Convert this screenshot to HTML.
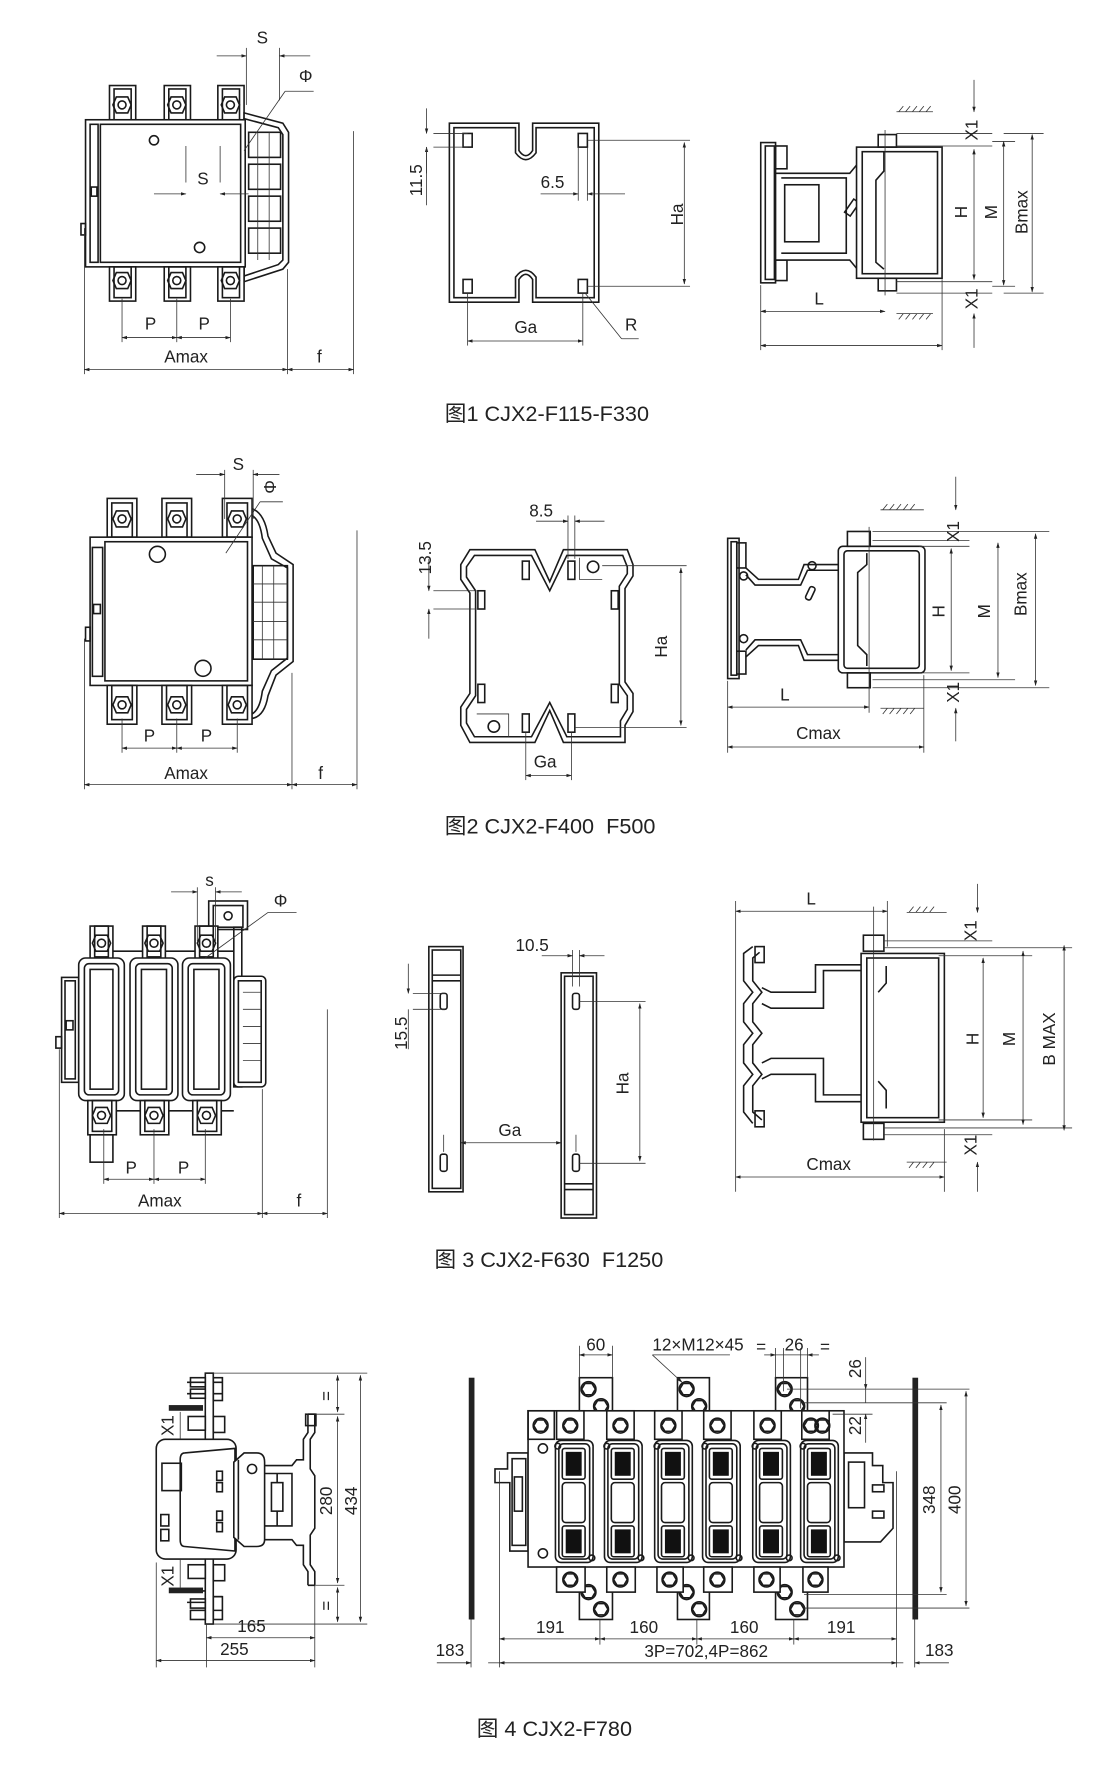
<!DOCTYPE html>
<html><head><meta charset="utf-8"><style>
html,body{margin:0;padding:0;background:#fff}
svg{display:block}
text{font-family:"Liberation Sans","Noto Sans CJK SC",sans-serif;fill:#222}
.o{fill:none;stroke:#1a1a1a;stroke-width:1.4}
.w{fill:#fff;stroke:#1a1a1a;stroke-width:1.4}
.d{fill:none;stroke:#333;stroke-width:0.7}
.a{fill:none;stroke:#333;stroke-width:0.7;marker-start:url(#ar);marker-end:url(#ar)}
.l{font-size:15px}
.c{font-size:19px}
</style></head><body>
<svg width="1120" height="1786" viewBox="0 0 982 1566" preserveAspectRatio="none" xmlns="http://www.w3.org/2000/svg">
<defs>
<marker id="ar" viewBox="0 0 10 10" refX="9" refY="5" markerWidth="7" markerHeight="7" orient="auto-start-reverse"><path d="M0,2 L10,5 L0,8 z" fill="#222"/></marker>
<g id="hx"><polygon points="-5,-7 5,-7 8,0 5,7 -5,7 -8,0" class="o"/><circle r="3.5" class="o"/></g>
<g id="hb"><circle r="6.5" class="o"/><polygon points="-3,-5 3,-5 6,0 3,5 -3,5 -6,0" class="o"/></g>
</defs>

<!-- ================= FIG 1 ================= -->
<g>
<rect x="96" y="75" width="23" height="32" class="w"/><rect x="100" y="78" width="15" height="29" class="o"/>
<rect x="144" y="75" width="23" height="32" class="w"/><rect x="148" y="78" width="15" height="29" class="o"/>
<rect x="191" y="75" width="23" height="32" class="w"/><rect x="195" y="78" width="15" height="29" class="o"/>
<use href="#hx" x="107" y="92"/><use href="#hx" x="155" y="92"/><use href="#hx" x="202" y="92"/>
<polygon points="214,99 248,108 253,116 253,230 248,236 214,247" class="w"/>
<polygon points="214,104 244,112 248,118 248,228 244,232 214,242" class="o"/>
<rect x="218" y="116" width="28" height="22" class="o"/><rect x="218" y="144" width="28" height="22" class="o"/><rect x="218" y="172" width="28" height="22" class="o"/><rect x="218" y="200" width="28" height="22" class="o"/>
<line x1="226" y1="116" x2="226" y2="228" class="d"/><line x1="236" y1="116" x2="236" y2="228" class="d"/>
<rect x="75" y="105" width="140" height="129" class="w"/>
<rect x="88" y="109" width="123" height="121" class="o"/>
<rect x="79" y="109" width="7" height="121" class="o"/>
<rect x="80" y="164" width="5" height="8" class="o"/>
<rect x="71" y="196" width="4" height="10" class="o"/>
<circle cx="135" cy="123" r="4" class="o"/><circle cx="175" cy="217" r="4.5" class="o"/>
<rect x="96" y="234" width="23" height="30" class="w"/><rect x="100" y="234" width="15" height="27" class="o"/>
<rect x="144" y="234" width="23" height="30" class="w"/><rect x="148" y="234" width="15" height="27" class="o"/>
<rect x="191" y="234" width="23" height="30" class="w"/><rect x="195" y="234" width="15" height="27" class="o"/>
<use href="#hx" x="107" y="246"/><use href="#hx" x="155" y="246"/><use href="#hx" x="202" y="246"/>
<line x1="74" y1="200" x2="74" y2="328" class="d"/><line x1="252" y1="236" x2="252" y2="328" class="d"/><line x1="310" y1="115" x2="310" y2="328" class="d"/>
<line x1="74" y1="324" x2="252" y2="324" class="a"/><line x1="252" y1="324" x2="310" y2="324" class="a"/>
<text x="144" y="318" class="l">Amax</text><text x="278" y="318" class="l">f</text>
<line x1="107" y1="262" x2="107" y2="300" class="d"/><line x1="155" y1="262" x2="155" y2="300" class="d"/><line x1="202" y1="262" x2="202" y2="300" class="d"/>
<line x1="107" y1="296" x2="155" y2="296" class="a"/><line x1="155" y1="296" x2="202" y2="296" class="a"/>
<text x="127" y="289" class="l">P</text><text x="174" y="289" class="l">P</text>
<line x1="216" y1="42" x2="216" y2="92" class="d"/><line x1="245" y1="42" x2="245" y2="88" class="d"/>
<line x1="190" y1="49" x2="216" y2="49" class="d" style="marker-end:url(#ar)"/><line x1="272" y1="49" x2="245" y2="49" class="d" style="marker-end:url(#ar)"/>
<text x="225" y="38" class="l">S</text>
<text x="262" y="72" class="l">Φ</text><line x1="250" y1="80" x2="275" y2="80" class="d"/><line x1="250" y1="80" x2="214" y2="132" class="d"/>
<line x1="163" y1="160" x2="163" y2="128" class="d"/><line x1="193" y1="160" x2="193" y2="128" class="d"/>
<line x1="135" y1="170" x2="163" y2="170" class="d" style="marker-end:url(#ar)"/><line x1="218" y1="170" x2="193" y2="170" class="d" style="marker-end:url(#ar)"/>
<text x="173" y="162" class="l">S</text>
</g>
<g>
<path d="M394,108 H455 V132 Q461,141 467,132 V108 H525 V265 H467 V245 Q461,236 455,245 V265 H394 Z" class="w"/>
<path d="M398,112 H452 V134 Q461,146 470,134 V112 H521 V261 H470 V243 Q461,231 452,243 V261 H398 Z" class="o"/>
<rect x="406" y="117" width="8" height="12" class="o"/><rect x="507" y="117" width="8" height="12" class="o"/>
<rect x="406" y="245" width="8" height="12" class="o"/><rect x="507" y="245" width="8" height="12" class="o"/>
<line x1="515" y1="123" x2="605" y2="123" class="d"/><line x1="515" y1="251" x2="605" y2="251" class="d"/>
<line x1="600" y1="125" x2="600" y2="249" class="a"/>
<text transform="translate(599,188) rotate(-90)" x="0" y="0" class="l" text-anchor="middle">Ha</text>
<line x1="380" y1="117" x2="410" y2="117" class="d"/><line x1="380" y1="129" x2="410" y2="129" class="d"/>
<line x1="374" y1="95" x2="374" y2="117" class="d" style="marker-end:url(#ar)"/><line x1="374" y1="152" x2="374" y2="129" class="d" style="marker-end:url(#ar)"/>
<line x1="374" y1="129" x2="374" y2="180" class="d"/>
<text transform="translate(370,158) rotate(-90)" class="l" text-anchor="middle">11.5</text>
<line x1="507" y1="129" x2="507" y2="176" class="d"/><line x1="515" y1="129" x2="515" y2="176" class="d"/>
<line x1="474" y1="170" x2="507" y2="170" class="d" style="marker-end:url(#ar)"/><line x1="548" y1="170" x2="515" y2="170" class="d" style="marker-end:url(#ar)"/>
<text x="474" y="165" class="l">6.5</text>
<line x1="410" y1="257" x2="410" y2="303" class="d"/><line x1="511" y1="257" x2="511" y2="303" class="d"/>
<line x1="410" y1="299" x2="511" y2="299" class="a"/><text x="451" y="292" class="l">Ga</text>
<line x1="513" y1="257" x2="545" y2="297" class="d"/><line x1="545" y1="297" x2="560" y2="297" class="d"/>
<text x="548" y="290" class="l">R</text>
</g>
<g>
<rect x="667" y="125" width="13" height="123" class="w"/><rect x="671" y="128" width="8" height="117" class="o"/>
<rect x="680" y="128" width="10" height="20" class="o"/><rect x="680" y="228" width="10" height="18" class="o"/>
<path d="M680,152 H745 L755,140 H770 V240 H755 L745,228 H680 Z" class="w"/>
<path d="M685,156 H742 V222 H685" class="o"/>
<rect x="688" y="162" width="30" height="50" class="o"/>
<circle cx="760" cy="150" r="4" class="o"/><circle cx="760" cy="232" r="4" class="o"/>
<rect x="744" y="175" width="6" height="14" transform="rotate(35 747 182)" class="o"/>
<rect x="751" y="129" width="75" height="115" class="w"/><rect x="756" y="133" width="66" height="107" class="o"/>
<path d="M775,133 V150 L768,158 V230 L775,236" class="o"/>
<rect x="770" y="118" width="16" height="11" class="o"/><rect x="770" y="244" width="16" height="11" class="o"/>
<line x1="776" y1="114" x2="776" y2="259" class="d"/>
<line x1="786" y1="98" x2="818" y2="98" class="d"/><line x1="786" y1="275" x2="818" y2="275" class="d"/>
<path d="M788,98 l4,-5 M794,98 l4,-5 M800,98 l4,-5 M806,98 l4,-5 M812,98 l4,-5 M788,280 l4,-5 M794,280 l4,-5 M800,280 l4,-5 M806,280 l4,-5 M812,280 l4,-5" class="d"/>
<line x1="786" y1="117" x2="870" y2="117" class="d"/><line x1="786" y1="128" x2="870" y2="128" class="d"/>
<line x1="786" y1="247" x2="870" y2="247" class="d"/><line x1="786" y1="257" x2="870" y2="257" class="d"/>
<line x1="854" y1="70" x2="854" y2="98" class="d" style="marker-end:url(#ar)"/><line x1="854" y1="305" x2="854" y2="275" class="d" style="marker-end:url(#ar)"/>
<line x1="854" y1="131" x2="854" y2="245" class="a"/>
<line x1="880" y1="124" x2="880" y2="250" class="a"/><line x1="870" y1="124" x2="890" y2="124" class="d"/><line x1="870" y1="251" x2="890" y2="251" class="d"/>
<line x1="905" y1="118" x2="905" y2="256" class="a"/><line x1="880" y1="117" x2="915" y2="117" class="d"/><line x1="880" y1="257" x2="915" y2="257" class="d"/>
<text transform="translate(857,114) rotate(-90)" class="l" text-anchor="middle">X1</text>
<text transform="translate(857,262) rotate(-90)" class="l" text-anchor="middle">X1</text>
<text transform="translate(848,186) rotate(-90)" class="l" text-anchor="middle">H</text>
<text transform="translate(874,186) rotate(-90)" class="l" text-anchor="middle">M</text>
<text transform="translate(901,186) rotate(-90)" class="l" text-anchor="middle">Bmax</text>
<line x1="667" y1="250" x2="667" y2="307" class="d"/><line x1="826" y1="245" x2="826" y2="307" class="d"/>
<line x1="667" y1="273" x2="776" y2="273" class="a"/><text x="714" y="267" class="l">L</text>
<line x1="667" y1="303" x2="826" y2="303" class="a"/>
</g>
<text x="390" y="369" class="c">图1 CJX2-F115-F330</text>

<!-- ================= FIG 2 ================= -->
<g>
<rect x="94" y="437" width="26" height="34" class="w"/><rect x="98" y="441" width="18" height="30" class="o"/>
<rect x="142" y="437" width="26" height="34" class="w"/><rect x="146" y="441" width="18" height="30" class="o"/>
<rect x="195" y="437" width="26" height="34" class="w"/><rect x="199" y="441" width="18" height="30" class="o"/>
<use href="#hx" x="107" y="455"/><use href="#hx" x="155" y="455"/><use href="#hx" x="208" y="455"/>
<path d="M221,446 Q232,450 235,470 L242,485 L257,495 V580 L242,592 L235,610 Q232,628 221,630" class="o"/>
<path d="M221,452 Q228,456 230,472 L238,490 L252,498 V577 L238,588 L230,606 Q228,622 221,626" class="o"/>
<rect x="222" y="496" width="30" height="82" class="o"/>
<path d="M230,496 V578 M240,496 V578 M222,512 H252 M222,528 H252 M222,545 H252 M222,561 H252" class="d"/>
<rect x="79" y="471" width="142" height="130" class="w"/>
<rect x="92" y="475" width="125" height="122" class="o"/>
<rect x="81" y="480" width="9" height="113" class="o"/>
<rect x="82" y="530" width="6" height="8" class="o"/>
<rect x="75" y="550" width="4" height="12" class="o"/>
<circle cx="138" cy="486" r="7" class="o"/><circle cx="178" cy="586" r="7" class="o"/>
<rect x="94" y="601" width="26" height="34" class="w"/><rect x="98" y="601" width="18" height="30" class="o"/>
<rect x="142" y="601" width="26" height="34" class="w"/><rect x="146" y="601" width="18" height="30" class="o"/>
<rect x="195" y="601" width="26" height="34" class="w"/><rect x="199" y="601" width="18" height="30" class="o"/>
<use href="#hx" x="107" y="618"/><use href="#hx" x="155" y="618"/><use href="#hx" x="208" y="618"/>
<line x1="74" y1="560" x2="74" y2="692" class="d"/><line x1="256" y1="590" x2="256" y2="692" class="d"/><line x1="313" y1="465" x2="313" y2="692" class="d"/>
<line x1="74" y1="688" x2="256" y2="688" class="a"/><line x1="256" y1="688" x2="313" y2="688" class="a"/>
<text x="144" y="683" class="l">Amax</text><text x="279" y="683" class="l">f</text>
<line x1="107" y1="630" x2="107" y2="660" class="d"/><line x1="155" y1="630" x2="155" y2="660" class="d"/><line x1="208" y1="630" x2="208" y2="660" class="d"/>
<line x1="107" y1="656" x2="155" y2="656" class="a"/><line x1="155" y1="656" x2="208" y2="656" class="a"/>
<text x="126" y="650" class="l">P</text><text x="176" y="650" class="l">P</text>
<line x1="197" y1="412" x2="197" y2="455" class="d"/><line x1="222" y1="412" x2="222" y2="455" class="d"/>
<line x1="172" y1="416" x2="197" y2="416" class="d" style="marker-end:url(#ar)"/><line x1="245" y1="416" x2="222" y2="416" class="d" style="marker-end:url(#ar)"/>
<text x="204" y="412" class="l">S</text>
<text transform="translate(242,427) rotate(-90)" class="l" text-anchor="middle">Φ</text>
<line x1="228" y1="440" x2="248" y2="440" class="d"/><line x1="228" y1="440" x2="198" y2="485" class="d"/>
</g>
<g>
<path d="M412,482 H469 L482,510 L494,482 H550 L555,495 V505 L548,516 V598 L555,608 V624 L548,636 V651 H494 L482,623 L469,651 H412 L404,636 V620 L412,608 V520 L404,508 V495 Z" class="w"/>
<path d="M416,487 H466 L482,518 L497,487 H546 L550,497 V503 L543,514 V600 L550,610 V622 L544,632 V646 H497 L482,616 L466,646 H416 L409,634 V622 L417,610 V518 L409,506 V497 Z" class="o"/>
<rect x="458" y="492" width="6" height="16" class="o"/><rect x="498" y="492" width="6" height="16" class="o"/>
<rect x="419" y="518" width="6" height="16" class="o"/><rect x="536" y="518" width="6" height="16" class="o"/>
<rect x="419" y="600" width="6" height="16" class="o"/><rect x="536" y="600" width="6" height="16" class="o"/>
<rect x="458" y="626" width="6" height="16" class="o"/><rect x="498" y="626" width="6" height="16" class="o"/>
<circle cx="520" cy="497" r="5" class="o"/><path d="M508,489 V508 H528" class="d"/>
<circle cx="433" cy="637" r="5" class="o"/><path d="M418,626 H446 V646" class="d"/>
<line x1="528" y1="496" x2="602" y2="496" class="d"/><line x1="504" y1="638" x2="602" y2="638" class="d"/>
<line x1="597" y1="498" x2="597" y2="636" class="a"/>
<text transform="translate(585,567) rotate(-90)" class="l" text-anchor="middle">Ha</text>
<line x1="498" y1="452" x2="498" y2="490" class="d"/><line x1="504" y1="452" x2="504" y2="490" class="d"/>
<line x1="470" y1="457" x2="498" y2="457" class="d" style="marker-end:url(#ar)"/><line x1="530" y1="457" x2="504" y2="457" class="d" style="marker-end:url(#ar)"/>
<text x="464" y="453" class="l">8.5</text>
<line x1="380" y1="518" x2="418" y2="518" class="d"/><line x1="380" y1="534" x2="418" y2="534" class="d"/>
<line x1="376" y1="490" x2="376" y2="518" class="d" style="marker-end:url(#ar)"/><line x1="376" y1="560" x2="376" y2="534" class="d" style="marker-end:url(#ar)"/>
<text transform="translate(378,489) rotate(-90)" class="l" text-anchor="middle">13.5</text>
<line x1="461" y1="642" x2="461" y2="684" class="d"/><line x1="501" y1="642" x2="501" y2="684" class="d"/>
<line x1="461" y1="680" x2="501" y2="680" class="a"/><text x="468" y="673" class="l">Ga</text>
</g>
<g>
<rect x="638" y="472" width="10" height="123" class="w"/><rect x="641" y="475" width="5" height="117" class="o"/>
<rect x="646" y="476" width="8" height="22" class="o"/><rect x="646" y="571" width="8" height="20" class="o"/>
<path d="M654,498 L665,508 H700 L705,495 H737 V579 H705 L700,566 H665 L654,576" class="o"/>
<path d="M654,504 L662,513 H702 L708,500 H737 M654,570 L662,561 H702 L708,574 H737" class="o"/>
<circle cx="652" cy="505" r="3.5" class="o"/><circle cx="652" cy="560" r="3.5" class="o"/><circle cx="712" cy="496" r="3.5" class="o"/>
<rect x="708" y="514" width="5" height="12" rx="2" transform="rotate(25 710 520)" class="o"/>
<rect x="735" y="479" width="76" height="111" rx="4" class="w"/><rect x="740" y="483" width="66" height="103" rx="3" class="o"/>
<path d="M760,485 V495 L752,502 V566 L760,574 V584" class="o"/>
<rect x="743" y="466" width="20" height="13" class="o"/><rect x="743" y="590" width="20" height="13" class="o"/>
<line x1="762" y1="462" x2="762" y2="625" class="d"/>
<line x1="772" y1="447" x2="810" y2="447" class="d"/><line x1="772" y1="621" x2="810" y2="621" class="d"/>
<path d="M774,447 l4,-5 M780,447 l4,-5 M786,447 l4,-5 M792,447 l4,-5 M798,447 l4,-5 M774,626 l4,-5 M780,626 l4,-5 M786,626 l4,-5 M792,626 l4,-5 M798,626 l4,-5" class="d"/>
<line x1="765" y1="466" x2="920" y2="466" class="d"/><line x1="765" y1="474" x2="850" y2="474" class="d"/>
<line x1="806" y1="479" x2="850" y2="479" class="d"/><line x1="806" y1="590" x2="850" y2="590" class="d"/>
<line x1="765" y1="596" x2="890" y2="596" class="d"/><line x1="765" y1="603" x2="920" y2="603" class="d"/>
<line x1="838" y1="418" x2="838" y2="447" class="d" style="marker-end:url(#ar)"/><line x1="838" y1="650" x2="838" y2="621" class="d" style="marker-end:url(#ar)"/>
<line x1="834" y1="481" x2="834" y2="588" class="a"/>
<line x1="875" y1="476" x2="875" y2="594" class="a"/>
<line x1="908" y1="468" x2="908" y2="601" class="a"/>
<text transform="translate(841,466) rotate(-90)" class="l" text-anchor="middle">X1</text>
<text transform="translate(841,607) rotate(-90)" class="l" text-anchor="middle">X1</text>
<text transform="translate(828,536) rotate(-90)" class="l" text-anchor="middle">H</text>
<text transform="translate(868,536) rotate(-90)" class="l" text-anchor="middle">M</text>
<text transform="translate(900,521) rotate(-90)" class="l" text-anchor="middle">Bmax</text>
<line x1="638" y1="597" x2="638" y2="660" class="d"/><line x1="810" y1="592" x2="810" y2="660" class="d"/>
<line x1="638" y1="620" x2="762" y2="620" class="a"/><text x="684" y="614" class="l">L</text>
<line x1="638" y1="655" x2="810" y2="655" class="a"/><text x="698" y="648" class="l">Cmax</text>
</g>
<text x="390" y="731" class="c">图2 CJX2-F400&#160;&#160;F500</text>

<!-- ================= FIG 3 ================= -->
<g>
<rect x="183" y="790" width="34" height="25" class="w"/><rect x="187" y="794" width="26" height="19" class="o"/><circle cx="200" cy="803" r="3.5" class="o"/>
<rect x="205" y="813" width="7" height="140" class="o"/>
<rect x="205" y="856" width="28" height="97" rx="4" class="w"/><rect x="209" y="860" width="20" height="89" class="o"/>
<path d="M213,870 H229 M213,885 H229 M213,900 H229 M213,915 H229 M213,930 H229" class="d"/>
<rect x="54" y="857" width="15" height="92" class="w"/><rect x="57" y="860" width="9" height="86" class="o"/>
<rect x="58" y="895" width="6" height="8" class="o"/><rect x="49" y="909" width="5" height="10" class="o"/>
<line x1="80" y1="834" x2="205" y2="834" class="o"/><line x1="80" y1="974" x2="205" y2="974" class="o"/>
<g>
<rect x="79" y="812" width="20" height="30" class="w"/><rect x="83" y="812" width="12" height="27" class="o"/><use href="#hx" x="89" y="827"/>
<rect x="69" y="840" width="40" height="125" rx="6" class="w"/><rect x="74" y="845" width="30" height="115" rx="4" class="o"/><rect x="79" y="850" width="20" height="105" class="o"/>
<rect x="77" y="965" width="25" height="30" class="w"/><rect x="81" y="965" width="17" height="27" class="o"/><use href="#hx" x="89" y="978"/>
<rect x="79" y="995" width="20" height="24" class="o"/>
</g>
<g>
<rect x="125" y="812" width="20" height="30" class="w"/><rect x="129" y="812" width="12" height="27" class="o"/><use href="#hx" x="135" y="827"/>
<rect x="114" y="840" width="42" height="125" rx="6" class="w"/><rect x="119" y="845" width="32" height="115" rx="4" class="o"/><rect x="124" y="850" width="22" height="105" class="o"/>
<rect x="123" y="965" width="25" height="30" class="w"/><rect x="127" y="965" width="17" height="27" class="o"/><use href="#hx" x="135" y="978"/>
</g>
<g>
<rect x="171" y="812" width="20" height="30" class="w"/><rect x="175" y="812" width="12" height="27" class="o"/><use href="#hx" x="181" y="827"/>
<rect x="160" y="840" width="42" height="125" rx="6" class="w"/><rect x="165" y="845" width="32" height="115" rx="4" class="o"/><rect x="170" y="850" width="22" height="105" class="o"/>
<rect x="169" y="965" width="25" height="30" class="w"/><rect x="173" y="965" width="17" height="27" class="o"/><use href="#hx" x="181" y="978"/>
</g>
<line x1="52" y1="920" x2="52" y2="1068" class="d"/><line x1="230" y1="955" x2="230" y2="1068" class="d"/><line x1="287" y1="885" x2="287" y2="1068" class="d"/>
<line x1="52" y1="1064" x2="230" y2="1064" class="a"/><line x1="230" y1="1064" x2="287" y2="1064" class="a"/>
<text x="121" y="1058" class="l">Amax</text><text x="260" y="1058" class="l">f</text>
<line x1="91" y1="990" x2="91" y2="1038" class="d"/><line x1="135" y1="990" x2="135" y2="1038" class="d"/><line x1="180" y1="990" x2="180" y2="1038" class="d"/>
<line x1="91" y1="1034" x2="135" y2="1034" class="a"/><line x1="135" y1="1034" x2="180" y2="1034" class="a"/>
<text x="110" y="1029" class="l">P</text><text x="156" y="1029" class="l">P</text>
<line x1="173" y1="778" x2="173" y2="825" class="d"/><line x1="189" y1="778" x2="189" y2="825" class="d"/>
<line x1="150" y1="782" x2="173" y2="782" class="d" style="marker-end:url(#ar)"/><line x1="212" y1="782" x2="189" y2="782" class="d" style="marker-end:url(#ar)"/>
<text x="180" y="777" class="l">s</text>
<text x="240" y="795" class="l">Φ</text><line x1="235" y1="800" x2="260" y2="800" class="d"/><line x1="235" y1="800" x2="180" y2="840" class="d"/>
</g>
<g>
<rect x="376" y="830" width="30" height="215" class="w"/><rect x="379" y="833" width="25" height="209" class="o"/>
<line x1="379" y1="855" x2="404" y2="855" class="o"/><line x1="379" y1="860" x2="404" y2="860" class="o"/>
<rect x="386" y="871" width="6" height="14" rx="2" class="o"/><rect x="386" y="1012" width="6" height="15" rx="2" class="o"/>
<rect x="492" y="853" width="31" height="215" class="w"/><rect x="495" y="856" width="25" height="209" class="o"/>
<line x1="495" y1="1038" x2="520" y2="1038" class="o"/><line x1="495" y1="1043" x2="520" y2="1043" class="o"/>
<rect x="502" y="871" width="6" height="14" rx="2" class="o"/><rect x="502" y="1012" width="6" height="15" rx="2" class="o"/>
<line x1="508" y1="878" x2="566" y2="878" class="d"/><line x1="508" y1="1020" x2="566" y2="1020" class="d"/>
<line x1="561" y1="880" x2="561" y2="1018" class="a"/>
<text transform="translate(551,950) rotate(-90)" class="l" text-anchor="middle">Ha</text>
<line x1="502" y1="833" x2="502" y2="865" class="d"/><line x1="508" y1="833" x2="508" y2="865" class="d"/>
<line x1="475" y1="838" x2="502" y2="838" class="d" style="marker-end:url(#ar)"/><line x1="530" y1="838" x2="508" y2="838" class="d" style="marker-end:url(#ar)"/>
<text x="452" y="834" class="l">10.5</text>
<line x1="362" y1="871" x2="390" y2="871" class="d"/><line x1="362" y1="885" x2="390" y2="885" class="d"/>
<line x1="358" y1="845" x2="358" y2="871" class="d" style="marker-end:url(#ar)"/><line x1="358" y1="920" x2="358" y2="885" class="d"/>
<text transform="translate(357,906) rotate(-90)" class="l" text-anchor="middle">15.5</text>
<line x1="389" y1="995" x2="389" y2="1010" class="d"/><line x1="505" y1="995" x2="505" y2="1010" class="d"/>
<line x1="404" y1="1002" x2="492" y2="1002" class="a"/><text x="437" y="996" class="l">Ga</text>
</g>
<g>
<path d="M660,830 L652,836 V860 L660,870 L652,880 V896 L660,906 L652,916 V932 L660,942 L652,952 V975 L660,985" class="o" stroke-width="2.4"/>
<path d="M666,835 L660,840 V860 L668,870 L660,880 V896 L668,906 L660,916 V932 L668,942 L660,952 V975 L668,982" class="o"/>
<rect x="662" y="830" width="8" height="14" class="o"/><rect x="662" y="974" width="8" height="14" class="o"/>
<path d="M668,866 L676,870 H715 V846 H755 M668,880 L676,884 H722 V851 H755" class="o"/>
<path d="M668,946 L676,942 H715 V966 H755 M668,932 L676,928 H722 V960 H755" class="o"/>
<rect x="755" y="836" width="73" height="148" class="w"/><rect x="760" y="840" width="63" height="140" class="o"/>
<path d="M777,847 V862 L770,870 M777,972 V956 L770,948" class="o"/>
<rect x="757" y="820" width="18" height="14" class="o"/><rect x="757" y="985" width="18" height="14" class="o"/>
<line x1="766" y1="795" x2="766" y2="1000" class="d"/>
<line x1="795" y1="800" x2="830" y2="800" class="d"/><line x1="795" y1="1019" x2="830" y2="1019" class="d"/>
<path d="M797,800 l4,-5 M803,800 l4,-5 M809,800 l4,-5 M815,800 l4,-5 M797,1024 l4,-5 M803,1024 l4,-5 M809,1024 l4,-5 M815,1024 l4,-5" class="d"/>
<line x1="775" y1="825" x2="870" y2="825" class="d"/><line x1="775" y1="831" x2="940" y2="831" class="d"/>
<line x1="823" y1="838" x2="905" y2="838" class="d"/><line x1="823" y1="982" x2="905" y2="982" class="d"/>
<line x1="775" y1="989" x2="940" y2="989" class="d"/><line x1="775" y1="995" x2="870" y2="995" class="d"/>
<line x1="857" y1="775" x2="857" y2="800" class="d" style="marker-end:url(#ar)"/><line x1="857" y1="1045" x2="857" y2="1019" class="d" style="marker-end:url(#ar)"/>
<line x1="862" y1="840" x2="862" y2="980" class="a"/>
<line x1="897" y1="834" x2="897" y2="986" class="a"/>
<line x1="933" y1="829" x2="933" y2="991" class="a"/>
<text transform="translate(856,816) rotate(-90)" class="l" text-anchor="middle">X1</text>
<text transform="translate(856,1004) rotate(-90)" class="l" text-anchor="middle">X1</text>
<text transform="translate(858,911) rotate(-90)" class="l" text-anchor="middle">H</text>
<text transform="translate(890,911) rotate(-90)" class="l" text-anchor="middle">M</text>
<text transform="translate(925,911) rotate(-90)" class="l" text-anchor="middle">B MAX</text>
<line x1="645" y1="790" x2="645" y2="1045" class="d"/><line x1="778" y1="790" x2="778" y2="830" class="d"/><line x1="828" y1="990" x2="828" y2="1045" class="d"/>
<line x1="645" y1="799" x2="778" y2="799" class="a"/><text x="707" y="793" class="l">L</text>
<line x1="645" y1="1032" x2="828" y2="1032" class="a"/><text x="707" y="1026" class="l">Cmax</text>
</g>
<text x="381" y="1111" class="c">图 3 CJX2-F630&#160;&#160;F1250</text>

<!-- ================= FIG 4 ================= -->
<g>
<rect x="180" y="1204" width="7" height="220" class="w"/>
<path d="M164,1212 h16 M164,1222 h16 M164,1395 h16 M164,1405 h16 M187,1212 h8 M187,1222 h8 M187,1400 h8 M187,1412 h8" class="o"/>
<rect x="167" y="1208" width="13" height="8" class="o"/><rect x="167" y="1218" width="13" height="8" class="o"/><rect x="187" y="1208" width="8" height="20" class="o"/>
<rect x="167" y="1402" width="13" height="8" class="o"/><rect x="167" y="1412" width="13" height="8" class="o"/><rect x="187" y="1400" width="8" height="20" class="o"/>
<rect x="148" y="1232" width="30" height="5" fill="#222"/><rect x="148" y="1392" width="30" height="5" fill="#222"/>
<rect x="165" y="1242" width="15" height="12" class="o"/><rect x="187" y="1242" width="10" height="14" class="o"/>
<rect x="165" y="1372" width="15" height="12" class="o"/><rect x="187" y="1372" width="10" height="14" class="o"/>
<rect x="137" y="1262" width="70" height="105" rx="8" class="w"/>
<path d="M162,1274 L206,1270 V1360 L162,1356 Q158,1356 158,1350 V1280 Q158,1274 162,1274 Z" class="o"/>
<rect x="142" y="1283" width="17" height="24" class="o"/><rect x="141" y="1328" width="7" height="10" class="o"/><rect x="141" y="1341" width="7" height="10" class="o"/>
<rect x="190" y="1290" width="5" height="8" class="o"/><rect x="190" y="1300" width="5" height="8" class="o"/><rect x="190" y="1325" width="5" height="8" class="o"/><rect x="190" y="1335" width="5" height="8" class="o"/>
<path d="M214,1274 H225 Q232,1274 232,1282 V1350 Q232,1356 225,1356 H214 L205,1348 V1282 Z" class="w"/>
<line x1="209" y1="1280" x2="209" y2="1350" class="o" stroke-width="2"/>
<circle cx="221" cy="1288" r="4" class="o"/>
<rect x="238" y="1300" width="10" height="25" class="o"/><path d="M232,1292 H256 V1338 H232 M243,1292 V1300 M243,1325 V1338" class="o"/>
<path d="M232,1285 H256 L260,1280 H266 V1262 L270,1256 V1240 M232,1350 H256 L260,1355 H266 V1372 L270,1378 V1390" class="o"/>
<path d="M270,1240 H276 V1256 L272,1262 V1288 L276,1294 V1340 L272,1346 V1372 L276,1378 V1390 H270" class="o"/>
<rect x="268" y="1240" width="9" height="10" class="o"/>
<line x1="187" y1="1204" x2="322" y2="1204" class="d"/><line x1="277" y1="1240" x2="302" y2="1240" class="d"/><line x1="277" y1="1390" x2="302" y2="1390" class="d"/><line x1="187" y1="1424" x2="322" y2="1424" class="d"/>
<line x1="316" y1="1206" x2="316" y2="1422" class="a"/>
<line x1="296" y1="1206" x2="296" y2="1238" class="a"/><line x1="296" y1="1242" x2="296" y2="1388" class="a"/><line x1="296" y1="1392" x2="296" y2="1422" class="a"/>
<text transform="translate(291,1224) rotate(-90)" class="l" text-anchor="middle">=</text>
<text transform="translate(291,1408) rotate(-90)" class="l" text-anchor="middle">=</text>
<text transform="translate(291,1316) rotate(-90)" class="l" text-anchor="middle">280</text>
<text transform="translate(313,1316) rotate(-90)" class="l" text-anchor="middle">434</text>
<text transform="translate(152,1250) rotate(-90)" class="l" text-anchor="middle">X1</text>
<text transform="translate(152,1382) rotate(-90)" class="l" text-anchor="middle">X1</text>
<line x1="158" y1="1238" x2="158" y2="1262" class="d"/><line x1="158" y1="1367" x2="158" y2="1392" class="d"/>
<line x1="137" y1="1370" x2="137" y2="1462" class="d"/><line x1="181" y1="1424" x2="181" y2="1462" class="d"/><line x1="276" y1="1390" x2="276" y2="1462" class="d"/>
<line x1="181" y1="1436" x2="276" y2="1436" class="a"/><text x="208" y="1431" class="l">165</text>
<line x1="137" y1="1456" x2="276" y2="1456" class="a"/><text x="193" y="1451" class="l">255</text>
</g>
<g>
<rect x="411" y="1208" width="5" height="212" fill="#222"/><rect x="800" y="1208" width="5" height="212" fill="#222"/>
<rect x="508" y="1208" width="29" height="34" class="w"/><rect x="594" y="1208" width="28" height="34" class="w"/><rect x="680" y="1208" width="28" height="34" class="w"/>
<rect x="508" y="1370" width="29" height="50" class="w"/><rect x="594" y="1370" width="28" height="50" class="w"/><rect x="680" y="1370" width="28" height="50" class="w"/>
<use href="#hb" x="516" y="1218"/><use href="#hb" x="527" y="1233"/><use href="#hb" x="602" y="1218"/><use href="#hb" x="613" y="1233"/><use href="#hb" x="688" y="1218"/><use href="#hb" x="699" y="1233"/>
<use href="#hb" x="516" y="1396"/><use href="#hb" x="527" y="1411"/><use href="#hb" x="602" y="1396"/><use href="#hb" x="613" y="1411"/><use href="#hb" x="688" y="1396"/><use href="#hb" x="699" y="1411"/>
<path d="M445,1274 H463 V1360 H447 V1300 H434 V1288 H445 Z" class="w"/>
<rect x="449" y="1279" width="12" height="76" class="o"/><rect x="451" y="1295" width="7" height="30" class="o"/>
<path d="M740,1274 H765 V1285 H774 V1300 H783 V1340 L772,1352 H740 Z" class="w"/>
<rect x="744" y="1282" width="14" height="40" class="o"/><rect x="765" y="1302" width="10" height="6" class="o"/><rect x="765" y="1325" width="10" height="6" class="o"/>
<rect x="463" y="1237" width="277" height="137" class="w"/>
<g class="o">
<rect x="463" y="1237" width="23" height="25"/><rect x="488" y="1237" width="24" height="25"/><rect x="532" y="1237" width="24" height="25"/><rect x="574" y="1237" width="24" height="25"/><rect x="617" y="1237" width="24" height="25"/><rect x="661" y="1237" width="24" height="25"/><rect x="703" y="1237" width="24" height="25"/>
</g>
<use href="#hb" x="474" y="1250"/><use href="#hb" x="500" y="1250"/><use href="#hb" x="544" y="1250"/><use href="#hb" x="586" y="1250"/><use href="#hb" x="629" y="1250"/><use href="#hb" x="673" y="1250"/><use href="#hb" x="711" y="1250"/><use href="#hb" x="721" y="1250"/>
<rect x="488" y="1374" width="25" height="22" class="w"/><rect x="532" y="1374" width="25" height="22" class="w"/><rect x="576" y="1374" width="23" height="22" class="w"/><rect x="617" y="1374" width="25" height="22" class="w"/><rect x="661" y="1374" width="23" height="22" class="w"/><rect x="704" y="1374" width="22" height="22" class="w"/>
<use href="#hb" x="500" y="1385"/><use href="#hb" x="544" y="1385"/><use href="#hb" x="587" y="1385"/><use href="#hb" x="629" y="1385"/><use href="#hb" x="672" y="1385"/><use href="#hb" x="715" y="1385"/>
<circle cx="476" cy="1270" r="4" class="o"/><circle cx="476" cy="1362" r="4" class="o"/>
<g id="pole">
<rect x="487" y="1263" width="33" height="107" rx="5" class="w"/>
<rect x="490" y="1266" width="27" height="101" rx="4" class="o"/>
<rect x="493" y="1270" width="20" height="27" rx="2" class="o"/><rect x="496" y="1273" width="14" height="21" fill="#111"/>
<rect x="493" y="1300" width="20" height="35" rx="3" class="o"/>
<rect x="493" y="1338" width="20" height="27" rx="2" class="o"/><rect x="496" y="1341" width="14" height="21" fill="#111"/>
<circle cx="489" cy="1268" r="2.5" class="o"/><circle cx="519" cy="1366" r="2.5" class="o"/>
</g>
<use href="#pole" x="43"/><use href="#pole" x="87"/><use href="#pole" x="129"/><use href="#pole" x="173"/><use href="#pole" x="215"/>
<line x1="508" y1="1180" x2="508" y2="1208" class="d"/><line x1="537" y1="1180" x2="537" y2="1208" class="d"/>
<line x1="508" y1="1188" x2="537" y2="1188" class="a"/><text x="514" y="1184" class="l">60</text>
<text x="572" y="1184" class="l">12×M12×45</text>
<line x1="572" y1="1188" x2="640" y2="1188" class="d"/><line x1="572" y1="1188" x2="598" y2="1212" class="d" style="marker-end:url(#ar)"/>
<text x="663" y="1186" class="l">=</text><text x="688" y="1184" class="l">26</text><text x="719" y="1186" class="l">=</text>
<line x1="680" y1="1182" x2="680" y2="1208" class="d"/><line x1="708" y1="1182" x2="708" y2="1208" class="d"/><line x1="687" y1="1182" x2="687" y2="1220" class="d"/><line x1="702" y1="1182" x2="702" y2="1235" class="d"/>
<line x1="670" y1="1188" x2="680" y2="1188" class="d" style="marker-end:url(#ar)"/><line x1="680" y1="1188" x2="708" y2="1188" class="d"/><line x1="718" y1="1188" x2="708" y2="1188" class="d" style="marker-end:url(#ar)"/>
<line x1="690" y1="1218" x2="850" y2="1218" class="d"/><line x1="705" y1="1230" x2="830" y2="1230" class="d"/><line x1="730" y1="1240" x2="765" y2="1240" class="d"/>
<line x1="759" y1="1190" x2="759" y2="1218" class="d" style="marker-end:url(#ar)"/><line x1="759" y1="1218" x2="759" y2="1230" class="d"/><line x1="759" y1="1265" x2="759" y2="1240" class="d" style="marker-end:url(#ar)"/>
<text transform="translate(755,1200) rotate(-90)" class="l" text-anchor="middle">26</text>
<text transform="translate(755,1250) rotate(-90)" class="l" text-anchor="middle">22</text>
<line x1="705" y1="1398" x2="830" y2="1398" class="d"/><line x1="705" y1="1410" x2="850" y2="1410" class="d"/>
<line x1="825" y1="1232" x2="825" y2="1396" class="a"/><line x1="847" y1="1220" x2="847" y2="1408" class="a"/>
<text transform="translate(820,1315) rotate(-90)" class="l" text-anchor="middle">348</text>
<text transform="translate(842,1315) rotate(-90)" class="l" text-anchor="middle">400</text>
<line x1="438" y1="1290" x2="438" y2="1462" class="d"/><line x1="526" y1="1420" x2="526" y2="1442" class="d"/><line x1="611" y1="1420" x2="611" y2="1442" class="d"/><line x1="696" y1="1420" x2="696" y2="1442" class="d"/><line x1="786" y1="1290" x2="786" y2="1462" class="d"/>
<line x1="438" y1="1437" x2="526" y2="1437" class="a"/><line x1="526" y1="1437" x2="611" y2="1437" class="a"/><line x1="611" y1="1437" x2="696" y2="1437" class="a"/><line x1="696" y1="1437" x2="786" y2="1437" class="a"/>
<text x="470" y="1432" class="l">191</text><text x="552" y="1432" class="l">160</text><text x="640" y="1432" class="l">160</text><text x="725" y="1432" class="l">191</text>
<line x1="438" y1="1458" x2="786" y2="1458" class="a"/><text x="565" y="1453" class="l">3P=702,4P=862</text>
<line x1="413" y1="1420" x2="413" y2="1462" class="d"/><line x1="802" y1="1420" x2="802" y2="1462" class="d"/>
<line x1="383" y1="1458" x2="413" y2="1458" class="d" style="marker-end:url(#ar)"/><line x1="438" y1="1458" x2="428" y2="1458" class="d"/>
<line x1="832" y1="1458" x2="802" y2="1458" class="d" style="marker-end:url(#ar)"/><line x1="786" y1="1458" x2="792" y2="1458" class="d"/>
<text x="382" y="1452" class="l">183</text><text x="811" y="1452" class="l">183</text>
</g>
<text x="418" y="1522" class="c">图 4 CJX2-F780</text>
</svg>
</body></html>
